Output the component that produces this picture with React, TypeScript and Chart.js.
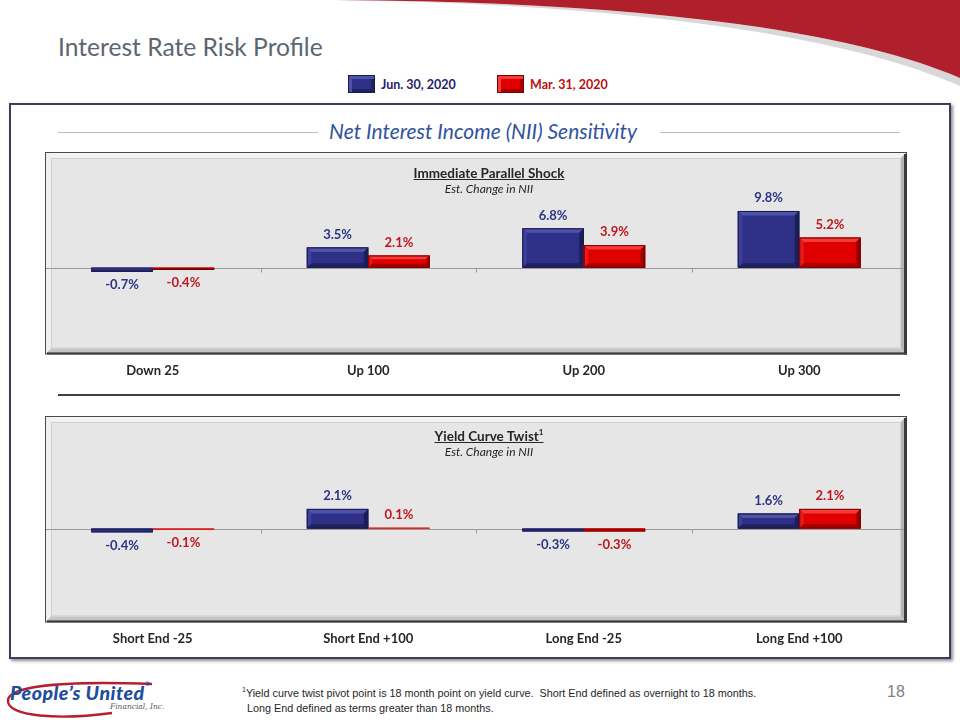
import React, { useEffect, useRef } from "react";
import { Chart, registerables } from "chart.js";

Chart.register(...registerables);

const seriesLabels = ["Jun. 30, 2020", "Mar. 31, 2020"];

const shockCategories = ["Down 25", "Up 100", "Up 200", "Up 300"];
const shockJun = [-0.7, 3.5, 6.8, 9.8];
const shockMar = [-0.4, 2.1, 3.9, 5.2];

const twistCategories = ["Short End -25", "Short End +100", "Long End -25", "Long End +100"];
const twistJun = [-0.4, 2.1, -0.3, 1.6];
const twistMar = [-0.1, 0.1, -0.3, 2.1];

const BLUE = { face: "#2E3088", top: "#4E52A8", left: "#3D409A", bottom: "#20225E", right: "#1C1E58", edge: "#181A4C", text: "#2B3584" };
const RED = { face: "#E00000", top: "#F53A3A", left: "#EA1A1A", bottom: "#A80000", right: "#9A0000", edge: "#7A0000", text: "#C0161E" };
const PALETTES = [BLUE, RED];

const FONT = "Lato, 'Open Sans', sans-serif";

function poly(ctx: CanvasRenderingContext2D, pts: number[][], color: string) {
  ctx.beginPath();
  ctx.moveTo(pts[0][0], pts[0][1]);
  for (let i = 1; i < pts.length; i++) ctx.lineTo(pts[i][0], pts[i][1]);
  ctx.closePath();
  ctx.fillStyle = color;
  ctx.fill();
}

const framePlugin = {
  id: "frame",
  beforeDatasetsDraw(chart: any) {
    const ctx = chart.ctx as CanvasRenderingContext2D;
    const { left, top, right, bottom } = chart.chartArea;
    ctx.save();
    ctx.fillStyle = "#E6E6E6";
    ctx.fillRect(left, top, right - left, bottom - top);
    const b = 6;
    poly(ctx, [[left, top], [right, top], [right - b, top + b], [left + b, top + b]], "#F3F3F3");
    poly(ctx, [[left, top], [left + b, top + b], [left + b, bottom - b], [left, bottom]], "#EFEFEF");
    poly(ctx, [[left, bottom], [left + b, bottom - b], [right - b, bottom - b], [right, bottom]], "#C4C4C4");
    poly(ctx, [[right, top], [right, bottom], [right - b, bottom - b], [right - b, top + b]], "#B4B4B4");
    ctx.strokeStyle = "#D0D0D0";
    ctx.lineWidth = 1;
    ctx.strokeRect(left + b + 0.5, top + b + 0.5, right - left - 2 * b - 1, bottom - top - 2 * b - 1);
    ctx.strokeStyle = "#4A4A4A";
    ctx.strokeRect(left + 0.5, top + 0.5, right - left - 1, bottom - top - 1);
    ctx.fillStyle = "#3A3A3A";
    ctx.fillRect(right - 3, top + 2, 3, bottom - top - 2);
    ctx.fillRect(left + 2, bottom - 2, right - left - 2, 2);
    // zero line with category-boundary ticks
    const yScale = chart.scales.y;
    const xScale = chart.scales.x;
    const y0 = Math.round(yScale.getPixelForValue(0)) + 0.5;
    ctx.strokeStyle = "#9A9A9A";
    ctx.beginPath();
    ctx.moveTo(left + 1, y0);
    ctx.lineTo(right - 3, y0);
    const n = chart.data.labels.length;
    for (let i = 1; i < n; i++) {
      const x = Math.round((xScale.getPixelForValue(i - 1) + xScale.getPixelForValue(i)) / 2) + 0.5;
      ctx.moveTo(x, y0);
      ctx.lineTo(x, y0 + 4);
    }
    ctx.stroke();
    ctx.restore();
  },
};

const bevelPlugin = {
  id: "bevel",
  afterDatasetsDraw(chart: any) {
    const ctx = chart.ctx as CanvasRenderingContext2D;
    ctx.save();
    chart.data.datasets.forEach((ds: any, di: number) => {
      const pal = PALETTES[di];
      const meta = chart.getDatasetMeta(di);
      meta.data.forEach((el: any, i: number) => {
        const l = el.x - el.width / 2;
        const r = el.x + el.width / 2;
        const t = Math.min(el.y, el.base);
        const bt = Math.max(el.y, el.base);
        const w = r - l;
        const h = bt - t;
        ctx.fillStyle = pal.face;
        ctx.fillRect(l, t, w, Math.max(h, 1));
        if (h >= 4) {
          const b = Math.min(4.5, h / 3.2, w / 4);
          poly(ctx, [[l, t], [r, t], [r - b, t + b], [l + b, t + b]], pal.top);
          poly(ctx, [[l, t], [l + b, t + b], [l + b, bt - b], [l, bt]], pal.left);
          poly(ctx, [[l, bt], [l + b, bt - b], [r - b, bt - b], [r, bt]], pal.bottom);
          poly(ctx, [[r, t], [r, bt], [r - b, bt - b], [r - b, t + b]], pal.right);
        }
        ctx.strokeStyle = pal.edge;
        ctx.lineWidth = 1;
        if (h >= 2) ctx.strokeRect(l + 0.5, t + 0.5, w - 1, h - 1);
        // value label
        const v = ds.data[i];
        ctx.fillStyle = pal.text;
        ctx.font = `bold 13px ${FONT}`;
        ctx.textAlign = "center";
        ctx.textBaseline = "middle";
        const ly = v >= 0 ? t - 13 : bt + 13;
        ctx.fillText(`${v.toFixed(1)}%`, el.x, ly);
      });
    });
    ctx.restore();
  },
};

function BarPanel(props: { categories: string[]; jun: number[]; mar: number[]; min: number; max: number; top: number; height: number }) {
  const ref = useRef<HTMLCanvasElement>(null);
  useEffect(() => {
    const chart = new Chart(ref.current as HTMLCanvasElement, {
      type: "bar",
      data: {
        labels: props.categories,
        datasets: [
          { label: seriesLabels[0], data: props.jun, backgroundColor: BLUE.face, barPercentage: 1, categoryPercentage: 0.57 },
          { label: seriesLabels[1], data: props.mar, backgroundColor: RED.face, barPercentage: 1, categoryPercentage: 0.57 },
        ],
      },
      options: {
        responsive: false,
        animation: false,
        layout: { padding: 0 },
        plugins: { legend: { display: false }, tooltip: { enabled: false }, title: { display: false } },
        scales: {
          x: {
            grid: { display: false, drawTicks: false },
            border: { display: false },
            ticks: { color: "#262626", padding: 9, font: { family: FONT, weight: "bold", size: 13 } },
          },
          y: { display: false, min: props.min, max: props.max },
        },
      },
      plugins: [framePlugin, bevelPlugin],
    } as any);
    return () => chart.destroy();
  }, []);
  return (
    <canvas
      ref={ref}
      width={862}
      height={props.height}
      style={{ position: "absolute", left: 45, top: props.top, width: 862, height: props.height }}
    />
  );
}

const abs = (s: React.CSSProperties): React.CSSProperties => ({ position: "absolute", whiteSpace: "nowrap", ...s });

function LegendSwatch({ pal, left }: { pal: typeof BLUE; left: number }) {
  return (
    <div
      style={abs({
        left,
        top: 75,
        width: 25,
        height: 16,
        background: pal.face,
        border: `1px solid ${pal.edge}`,
        boxShadow: `inset 3px 3px 0 ${pal.top}, inset -3px -3px 0 ${pal.bottom}`,
      })}
    />
  );
}

const NARROW = "'Liberation Sans Narrow', 'Arial Narrow', 'Liberation Sans', Arial, sans-serif";

export default function App() {
  return (
    <div style={{ position: "absolute", left: 0, top: 0, width: 960, height: 720, overflow: "hidden", background: "#fff", fontFamily: FONT }}>
      <svg width={960} height={120} style={{ position: "absolute", left: 0, top: 0 }}>
        <path d="M335,0 C560,3 820,24 960,86 L960,78 C820,18 560,1 335,0 Z" fill="#D8D8D8" />
        <path d="M335,0 C560,1 820,18 960,78 L960,0 Z" fill="#AF1F2C" />
      </svg>

      <div style={abs({ left: 58, top: 32, fontSize: 24.6, lineHeight: 1.2, color: "#5B6670" })}>Interest Rate Risk Profile</div>

      <LegendSwatch pal={BLUE} left={348} />
      <div style={abs({ left: 381, top: 77, fontSize: 12.5, lineHeight: 1.2, fontWeight: 700, color: "#1F2466" })}>{seriesLabels[0]}</div>
      <LegendSwatch pal={RED} left={497} />
      <div style={abs({ left: 530, top: 77, fontSize: 12.5, lineHeight: 1.2, fontWeight: 700, color: "#B81010" })}>{seriesLabels[1]}</div>

      <div style={abs({ left: 9, top: 103, width: 938, height: 552, border: "2px solid #3B3F5E", boxShadow: "2px 2px 3px rgba(0,0,0,0.45)" })} />

      <div style={abs({ left: 58, top: 132, width: 260, height: 1, background: "#BFBFBF" })} />
      <div style={abs({ left: 660, top: 132, width: 240, height: 1, background: "#BFBFBF" })} />
      <div style={abs({ left: 312, top: 118, width: 342, textAlign: "center", fontSize: 21, lineHeight: 1.2, fontStyle: "italic", color: "#2F54A0" })}>
        Net Interest Income (NII) Sensitivity
      </div>

      <BarPanel categories={shockCategories} jun={shockJun} mar={shockMar} min={-15} max={20} top={152} height={236} />
      <div style={abs({ left: 389, top: 165, width: 200, textAlign: "center", fontSize: 13.5, lineHeight: 1.2, fontWeight: 700, color: "#262626", textDecoration: "underline" })}>
        Immediate Parallel Shock
      </div>
      <div style={abs({ left: 389, top: 182, width: 200, textAlign: "center", fontSize: 12, lineHeight: 1.2, fontStyle: "italic", color: "#262626" })}>
        Est. Change in NII
      </div>

      <div style={abs({ left: 58, top: 394, width: 842, height: 1.5, background: "#404040" })} />

      <BarPanel categories={twistCategories} jun={twistJun} mar={twistMar} min={-10} max={12} top={416} height={240} />
      <div style={abs({ left: 389, top: 428, width: 200, textAlign: "center", fontSize: 13.5, lineHeight: 1.2, fontWeight: 700, color: "#262626" })}>
        <span style={{ textDecoration: "underline" }}>
          Yield Curve Twist<sup style={{ fontSize: 8, verticalAlign: "top", lineHeight: 1 }}>1</sup>
        </span>
      </div>
      <div style={abs({ left: 389, top: 445, width: 200, textAlign: "center", fontSize: 12, lineHeight: 1.2, fontStyle: "italic", color: "#262626" })}>
        Est. Change in NII
      </div>

      {/* logo */}
      <svg width={170} height={50} style={{ position: "absolute", left: 0, top: 672 }}>
        <path d="M112,41 C60,48 6,45 8,28 C10,13 70,9 152,12" fill="none" stroke="#B5202E" strokeWidth={2.4} />
      </svg>
      <div style={abs({ left: 10, top: 681, fontSize: 19.5, lineHeight: 1.2, fontWeight: 900, fontStyle: "italic", color: "#1F4E9C", letterSpacing: 0.5 })}>
        People’s United<sup style={{ fontSize: 6, verticalAlign: "top", lineHeight: 1 }}>®</sup>
      </div>
      <div style={abs({ left: 110, top: 702, fontSize: 7.5, lineHeight: 1.2, fontStyle: "italic", fontFamily: "'DejaVu Serif', serif", color: "#555" })}>Financial, Inc.</div>

      <div style={abs({ left: 242, top: 686, fontSize: 10.8, lineHeight: "15px", color: "#262626", fontFamily: NARROW })}>
        <div>
          <sup style={{ fontSize: 7, verticalAlign: "top", lineHeight: 1 }}>1</sup>Yield curve twist pivot point is 18 month point on yield curve.&nbsp; Short End defined as overnight to 18 months.
        </div>
        <div style={{ paddingLeft: 5 }}>Long End defined as terms greater than 18 months.</div>
      </div>
      <div style={abs({ left: 887, top: 683, fontSize: 16, lineHeight: "18px", color: "#7F7F7F", fontFamily: NARROW })}>18</div>
    </div>
  );
}
